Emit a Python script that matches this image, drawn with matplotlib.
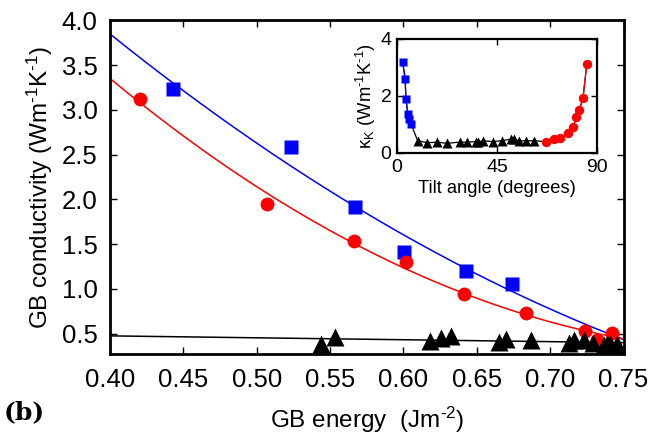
import numpy as np
import matplotlib
matplotlib.use("Agg")
import matplotlib.pyplot as plt

plt.rcParams['font.family'] = ['Liberation Sans', 'DejaVu Sans']
plt.rcParams['mathtext.fontset'] = 'custom'
plt.rcParams['mathtext.rm'] = 'Liberation Sans'
plt.rcParams['mathtext.it'] = 'Liberation Sans:italic'

# ---- main panel data: GB energy (J m^-2) vs GB conductivity ----
blue_energy = [0.4432, 0.5233, 0.5671, 0.6005, 0.6424, 0.6740]
blue_kappa = [3.23, 2.58, 1.91, 1.41, 1.20, 1.06]

red_energy = [0.4205, 0.5069, 0.5666, 0.6019, 0.6410, 0.6838, 0.7235, 0.7320, 0.7422]
red_kappa = [3.12, 1.95, 1.53, 1.30, 0.94, 0.73, 0.53, 0.43, 0.51]

black_energy = [0.5437, 0.5535, 0.6180, 0.6256, 0.6324, 0.6650, 0.6700, 0.6870,
                0.7127, 0.7165, 0.7229, 0.7293, 0.7365, 0.7390, 0.7410, 0.7456]
black_kappa = [0.38, 0.46, 0.42, 0.45, 0.48, 0.41, 0.44, 0.43,
               0.40, 0.43, 0.43, 0.40, 0.37, 0.38, 0.39, 0.39]

# ---- inset data: tilt angle (degrees) vs kappa_K ----
blue_angle = [2.5, 3.7, 4.0, 4.9, 5.5, 6.3]
blue_kk = [3.20, 2.60, 1.91, 1.38, 1.18, 1.03]

black_angle = [9.3, 13.7, 18.2, 22.3, 28.2, 31.5, 35.4, 36.4, 38.6, 43.1,
               47.3, 51.4, 52.5, 55.1, 58.1, 61.5]
black_kk = [0.43, 0.36, 0.38, 0.34, 0.38, 0.38, 0.40, 0.37, 0.43, 0.40,
            0.43, 0.49, 0.48, 0.42, 0.43, 0.43]

red_angle = [67.0, 70.7, 73.3, 77.0, 79.3, 80.7, 82.0, 83.7, 85.4]
red_kk = [0.40, 0.49, 0.52, 0.69, 0.90, 1.27, 1.51, 1.92, 3.11]

xticks_main = [0.40, 0.45, 0.50, 0.55, 0.60, 0.65, 0.70, 0.75]
yticks_main = [0.5, 1.0, 1.5, 2.0, 2.5, 3.0, 3.5, 4.0]

HY = "\u2010"  # short hyphen used for the superscript signs

fig = plt.figure(figsize=(6.51, 4.37), dpi=100)
ax = fig.add_axes([0.169, 0.1892, 0.7888, 0.7643])

# fitted trend lines (least-squares fits of the data)
xs = np.linspace(0.40, 0.75, 200)
pb = np.polyfit(blue_energy, blue_kappa, 2)
pr = np.polyfit(red_energy, red_kappa, 2)
pk = np.polyfit(black_energy, black_kappa, 1)
ax.plot(xs, np.polyval(pb, xs), color='blue', lw=1.1, zorder=2)
ax.plot(xs, np.polyval(pr, xs), color='red', lw=1.1, zorder=2)
ax.plot(xs, np.polyval(pk, xs), color='black', lw=1.1, zorder=2)

ax.plot(blue_energy, blue_kappa, 's', color='blue', ms=10, mec='none', zorder=3)
ax.plot(red_energy, red_kappa, 'o', color='red', ms=10, mec='none', zorder=3)
ax.plot(black_energy, black_kappa, '^', color='black', ms=13, mec='none', zorder=4)

ax.set_xlim(0.40, 0.75)
ax.set_ylim(0.27, 4.0)
ax.set_xticks(xticks_main)
ax.set_xticklabels([f"{v:.2f}" for v in xticks_main])
ax.set_yticks(yticks_main)
ax.set_yticklabels([f"{v:.1f}" for v in yticks_main])
ax.tick_params(direction='in', top=True, right=True, length=5, width=1,
               labelsize=18.5, pad=10)
ax.tick_params(axis='y', pad=9)
for s in ax.spines.values():
    s.set_linewidth(2)
ax.set_xlabel("GB energy  (Jm$^{" + HY + "2}$)", fontsize=17.5, labelpad=9)
ax.set_ylabel("GB conductivity (Wm$^{" + HY + "1}$K$^{" + HY + "1}$)",
              fontsize=17.5, labelpad=5)

fig.text(0.006, 0.04, "(b)", fontsize=18, fontweight='bold',
         family=['DejaVu Serif'])

# ---- inset ----
axi = fig.add_axes([0.6098, 0.6499, 0.3072, 0.2609])
all_angle = blue_angle + black_angle + red_angle
all_kk = blue_kk + black_kk + red_kk
axi.plot(all_angle, all_kk, '-', color='black', lw=0.9, zorder=1)
axi.plot(blue_angle, blue_kk, '-s', color='blue', ms=6, mec='none', lw=0.9, zorder=3)
axi.plot(red_angle, red_kk, '-o', color='red', ms=6.8, mec='none', lw=0.9, zorder=3)
axi.plot(black_angle, black_kk, '^', color='black', ms=6.8, mec='none', zorder=2)
axi.set_xlim(0, 90)
axi.set_ylim(0, 4)
axi.set_xticks([0, 45, 90])
axi.set_yticks([0, 2, 4])
axi.tick_params(direction='in', top=True, right=True, length=4, width=1,
                labelsize=14, pad=4)
for s in axi.spines.values():
    s.set_linewidth(1.6)
axi.set_xlabel("Tilt angle (degrees)", fontsize=13.2, labelpad=3)
axi.set_ylabel("κ$_{\\rm K}$ (Wm$^{" + HY + "1}$K$^{" + HY + "1}$)",
               fontsize=13.2, labelpad=2)

fig.savefig("out.png", dpi=100)
